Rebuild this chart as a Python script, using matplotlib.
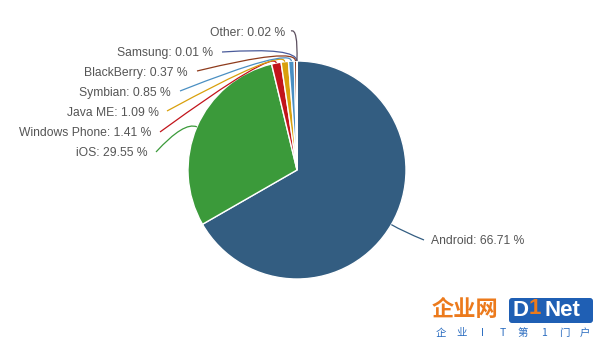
import numpy as np
import matplotlib
matplotlib.use("Agg")
import matplotlib.pyplot as plt
from matplotlib.path import Path
from matplotlib.patches import PathPatch, FancyBboxPatch

# share of mobile OS
names = ["Android", "iOS", "Windows Phone", "Java ME", "Symbian",
         "BlackBerry", "Samsung", "Other"]
shares = [66.71, 29.55, 1.41, 1.09, 0.85, 0.37, 0.01, 0.02]
colors = ["#335d81", "#3b9a3a", "#c2141b", "#d9a00c", "#4a8fc2",
          "#8e3b1c", "#4a5b9a", "#5b4e5e"]

# label layout (pixel coords, y down): text right edge / y, connector end
label_x = [431, 148, 151, 159, 171, 188, 213, 285]
label_y = [241, 153, 133, 113, 93, 73, 53, 33]
end_pts = [(424, 240), (156, 152), (160, 132), (167, 111), (180, 91),
           (197, 71), (222, 52), (291, 31)]

W, H = 593, 340
cx, cy, r = 297, 170, 109

fig = plt.figure(figsize=(W / 100, H / 100), dpi=100)
ax = fig.add_axes([0, 0, 1, 1])

# y axis is flipped, so counterclock=True draws clockwise on screen
wedges, _ = ax.pie(shares, colors=colors, startangle=-90, counterclock=True,
                   center=(cx, cy), radius=r, frame=True,
                   wedgeprops=dict(edgecolor="white", linewidth=1))
ax.set_xlim(0, W)
ax.set_ylim(H, 0)
ax.set_aspect("equal")
ax.axis("off")

for i, w in enumerate(wedges):
    mid = np.deg2rad((w.theta1 + w.theta2) / 2)
    dx, dy = np.cos(mid), np.sin(mid)
    p0 = (cx + r * dx, cy + r * dy)
    p1 = (cx + (r + 14) * dx, cy + (r + 14) * dy)
    if names[i] == "Other":
        p1 = (cx + 1, 28)
    path = Path([p0, p1, end_pts[i]], [Path.MOVETO, Path.CURVE3, Path.CURVE3])
    ax.add_patch(PathPatch(path, fill=False, edgecolor=colors[i], lw=0.9))
    txt = f"{names[i]}: {shares[i]:.2f} %"
    ha = "left" if i == 0 else "right"
    ax.text(label_x[i], label_y[i], txt, ha=ha, va="center", fontsize=8.7,
            color="#555555", family="Liberation Sans")

# watermark
cjk = ["Noto Sans CJK SC", "DejaVu Sans"]
ax.text(432, 310, "企业网", fontsize=16, fontweight="bold", color="#ec7a1c",
        family=cjk, va="center", ha="left")
ax.add_patch(FancyBboxPatch((509, 298), 84, 25, boxstyle="round,pad=0,rounding_size=3",
                            facecolor="#1f5fb4", edgecolor="none"))
ax.text(512, 311, "D", fontsize=16, fontweight="bold", color="white",
        family="Liberation Sans", va="center", ha="left")
ax.text(529, 309, "1", fontsize=16, fontweight="bold", color="#ec7a1c",
        family="Liberation Sans", va="center", ha="left")
ax.text(544, 311, "Net", fontsize=16, fontweight="bold", color="white",
        family="Liberation Sans", va="center", ha="left")
for k, ch in enumerate(["企", "业", "I", "T", "第", "1", "门", "户"]):
    ax.text(441 + k * 20.5, 333, ch, fontsize=7.5, color="#2a6cc0",
            family=cjk, va="center", ha="center")

fig.savefig("out.png", dpi=100, facecolor="white")
